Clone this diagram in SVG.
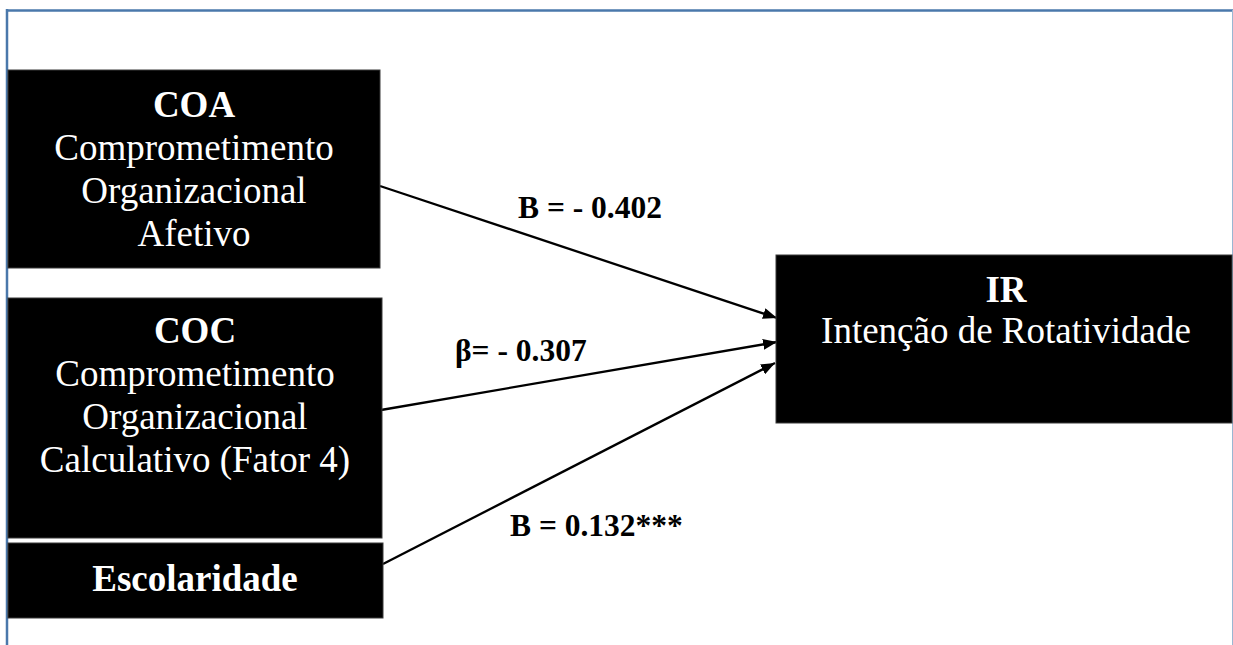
<svg xmlns="http://www.w3.org/2000/svg" width="1233" height="645" viewBox="0 0 1233 645">
<style>
.box{fill:#000;stroke:#3a3a3a;stroke-width:1}
.t{font-family:"Liberation Serif","Times New Roman",serif;fill:#fff;font-size:37px;text-anchor:middle}
.b{font-weight:bold}
.lbl{font-family:"Liberation Serif","Times New Roman",serif;fill:#000;font-size:31.5px;font-weight:bold}
.edge{stroke:#000;stroke-width:2.3;fill:none;marker-end:url(#ah)}
</style>
<defs>
<marker id="ah" viewBox="0 0 14 11" refX="14" refY="5.5" markerWidth="14" markerHeight="11" markerUnits="userSpaceOnUse" orient="auto">
<path d="M0,0 L14,5.5 L0,11 Z" fill="#000"/>
</marker>
</defs>
<rect width="1233" height="645" fill="#fff"/>
<g id="frame">
<line x1="7" y1="10.5" x2="1233" y2="10.5" stroke="#4a78ab" stroke-width="2.5"/>
<line x1="7" y1="9" x2="7" y2="645" stroke="#4a78ab" stroke-width="2.5"/>
<line x1="1232.5" y1="10" x2="1232.5" y2="645" stroke="#9ab6d2" stroke-width="1"/>
</g>
<g id="connectors">
<line class="edge" x1="380" y1="186" x2="777" y2="318"/>
<line class="edge" x1="381" y1="410" x2="777" y2="342"/>
<line class="edge" x1="383" y1="564" x2="775" y2="363"/>
<text class="lbl" x="518" y="218">B = - 0.402</text>
<text class="lbl" x="455" y="361">β= - 0.307</text>
<text class="lbl" x="510" y="536">B = 0.132***</text>
</g>
<g id="coa">
<rect class="box" x="8" y="70" width="372" height="198"/>
<text class="t b" x="194" y="117">COA</text>
<text class="t" x="194" y="160">Comprometimento</text>
<text class="t" x="194" y="203">Organizacional</text>
<text class="t" x="194" y="246">Afetivo</text>
</g>
<g id="coc">
<rect class="box" x="8" y="298" width="374" height="240"/>
<text class="t b" x="195" y="343">COC</text>
<text class="t" x="195" y="386">Comprometimento</text>
<text class="t" x="195" y="429">Organizacional</text>
<text class="t" x="195" y="472">Calculativo (Fator 4)</text>
</g>
<g id="escolaridade">
<rect class="box" x="8" y="543" width="375" height="75"/>
<text class="t b" x="195" y="591">Escolaridade</text>
</g>
<g id="ir">
<rect class="box" x="776" y="255" width="456" height="168"/>
<text class="t b" x="1006" y="302">IR</text>
<text class="t" x="1006" y="343">Intenção de Rotatividade</text>
</g>
</svg>
